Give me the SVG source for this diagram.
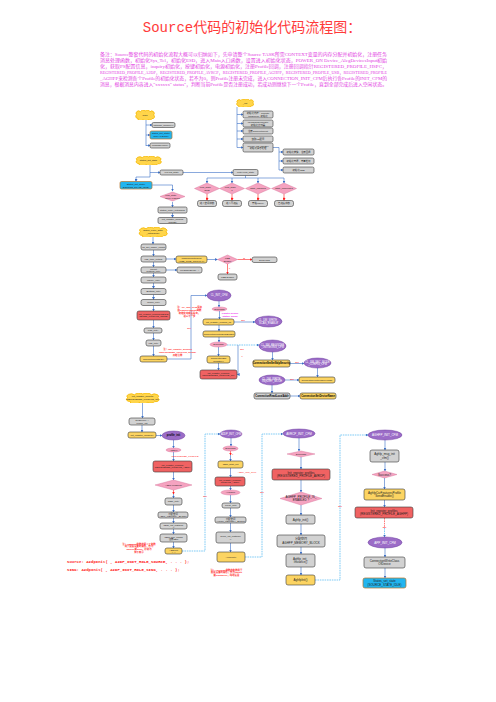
<svg xmlns="http://www.w3.org/2000/svg" width="496" height="702" viewBox="0 0 496 702">
<defs>
<style>
text{font-family:"Liberation Sans","Noto Sans CJK SC",sans-serif;text-anchor:middle;fill:#222}
.t{font-size:2.4px}
.tb{font-size:2.6px;font-weight:bold;fill:#000}
.tw{font-size:2.6px;fill:#fff}
.gray{fill:#d2d2d2;stroke:#3a3a3a;stroke-width:0.6}
.blue{fill:#22b5ef;stroke:#b8742a;stroke-width:0.7}
.yel{fill:#fcd462;stroke:#3a3a3a;stroke-width:0.6}
.red{fill:#f06262;stroke:#3a3a3a;stroke-width:0.6}
.pink{fill:#f5a3c0;stroke:#d36d96;stroke-width:0.4}
.pur{fill:#9b6cc7;stroke:#6e3fa0;stroke-width:0.5}
.cloud{fill:#ffd54a;stroke:#f5b800;stroke-width:0.8}
.c{fill:none;stroke:#3b6fc6;stroke-width:0.6;marker-end:url(#a)}
.cn{fill:none;stroke:#3b6fc6;stroke-width:0.6}
.d{fill:none;stroke:#2aa8ef;stroke-width:0.6;stroke-dasharray:1.6 0.8;marker-end:url(#a)}
.r{fill:none;stroke:#ff2020;stroke-width:0.6;marker-end:url(#ar)}
.rt{font-size:2.4px;fill:#ff1a1a;font-weight:bold}
.lab{font-size:2.4px;fill:#ff1a1a;font-weight:bold}
.desc{font-size:4.2px;fill:#e23ce2;text-anchor:start;font-family:"Liberation Serif","Noto Sans CJK SC",serif}
</style>
<marker id="a" markerUnits="userSpaceOnUse" markerWidth="3" markerHeight="3" refX="2.4" refY="1.5" orient="auto"><path d="M0,0 L2.6,1.5 L0,3 z" fill="#3b6fc6"/></marker>
<marker id="ar" markerUnits="userSpaceOnUse" markerWidth="3" markerHeight="3" refX="2.4" refY="1.5" orient="auto"><path d="M0,0 L2.6,1.5 L0,3 z" fill="#ff2020"/></marker>
<symbol id="cl" viewBox="0 0 100 50" preserveAspectRatio="none"><path d="M15,42 A10,10 0 0 1 8,24 A12,12 0 0 1 27,9 A15,15 0 0 1 51,5 A14,14 0 0 1 75,9 A12,12 0 0 1 93,25 A10,10 0 0 1 85,43 A12,12 0 0 1 65,47 A14,14 0 0 1 40,47 A12,12 0 0 1 15,42 Z" class="cloud" vector-effect="non-scaling-stroke"/></symbol>
</defs>
<rect width="496" height="702" fill="#fff"/>

<g id="title"><text x="252" y="31.5" style="font-family:'Liberation Mono','Noto Sans CJK SC',monospace;font-size:14px;fill:#ff3b3b">Source代码的初始化代码流程图：</text></g>
<g id="description">
<text class="desc" x="100" y="55.5" textLength="287" lengthAdjust="spacingAndGlyphs">备注：Source整套代码的初始化流程大概可以归纳如下，先申请整个Source TASK所需CONTEXT变量的内存分配并初始化，注册任务</text>
<text class="desc" x="100" y="61.5" textLength="287" lengthAdjust="spacingAndGlyphs">消息处理函数，初始化Sys_Tel，初始化ESD，进入Main入口函数，设置进入初始化状态，POWER_ON Device_AlegDevicesInput初始</text>
<text class="desc" x="100" y="67.5" textLength="287" lengthAdjust="spacingAndGlyphs">化，获取PS配置信息，inquiry初始化，按键初始化，电源初始化，注册Profile回调，注册回调指针REGISTERED_PROFILE_HSPC，</text>
<text class="desc" x="100" y="73.5" textLength="287" lengthAdjust="spacingAndGlyphs">REGISTERED_PROFILE_A2DP，REGISTERED_PROFILE_AVRCP，REGISTERED_PROFILE_AGHFP，REGISTERED_PROFILE_USB，REGISTERED_PROFILE</text>
<text class="desc" x="100" y="79.5" textLength="287" lengthAdjust="spacingAndGlyphs">_AGHFP来检测各个Profile的初始化状态，若不为0，则Profile注册未完成，进入CONNECTION_INIT_CFM后执行各Profile的INIT_CFM的</text>
<text class="desc" x="100" y="85.5" textLength="287" lengthAdjust="spacingAndGlyphs">消息，根据消息内容进入"xxxxxx" status"，判断当前Profile是否注册成功，若成功则继续下一个Profile，直到全部完成后进入空闲状态。</text>
</g>

<g id="connectors">
<path class="cn" d="M146,120 V146"/>
<path class="c" d="M146,125 H152"/>
<path class="c" d="M146,135 H150"/>
<path class="c" d="M146,145.5 H150"/>
<path class="cn" d="M150,165 V177 H136"/>
<path class="c" d="M136,177 V181.5"/>
<path class="c" d="M150,172.5 H160"/>
<path class="c" d="M183,172.5 H233"/>
<path class="c" d="M152,185 H172.5 V191"/>
<path class="c" d="M172.5,202 V207"/>
<path class="c" d="M172.5,213 V217.5"/>
<path class="cn" d="M237,107 V147.5"/>
<path class="c" d="M237,114.5 H243"/>
<path class="c" d="M237,123.5 H243"/>
<path class="c" d="M237,131 H243"/>
<path class="c" d="M237,139 H243"/>
<path class="c" d="M237,147.5 H243"/>
<path class="cn" d="M273,147.5 H279 V170"/>
<path class="c" d="M279,152 H283"/>
<path class="c" d="M279,161 H283"/>
<path class="c" d="M279,170 H283"/>
<path class="cn" d="M245.5,175.5 V178 M207,178 H284"/>
<path class="c" d="M207,178 V183"/>
<path class="c" d="M232,178 V183"/>
<path class="c" d="M258,178 V183"/>
<path class="c" d="M284,178 V183"/>
<path class="r" d="M207,194 V200.5"/>
<path class="r" d="M232,194 V200.5"/>
<path class="r" d="M258,194 V200.5"/>
<path class="r" d="M284,194 V200.5"/>
<path class="c" d="M153,237 V244"/>
<path class="c" d="M153.5,250 V256"/>
<path class="c" d="M153.5,262 V267"/>
<path class="c" d="M153.5,273 V277"/>
<path class="c" d="M153.5,283 V288.5"/>
<path class="c" d="M153.5,294.5 V299.5"/>
<path class="c" d="M153.5,305.5 V311"/>
<path class="c" d="M153.5,320 V328"/>
<path class="c" d="M153.5,333 V340"/>
<path class="c" d="M153.5,346 V356"/>
<path class="c" d="M166,259 H176"/>
<path class="c" d="M207,259.5 H217.5"/>
<path class="r" d="M237.5,259.5 H252"/>
<path class="r" d="M227.5,264 V274"/>
<path class="c" d="M166,270 H177"/>
<path class="c" d="M167,359 H191 V295.5 H207"/>
<path class="c" d="M219,301 V307"/>
<path class="c" d="M219.5,311 V319"/>
<path class="c" d="M234,322 H255"/>
<path class="c" d="M219,325 V331"/>
<path class="c" d="M219,337 V342"/>
<path class="c" d="M218.5,347 V356"/>
<path class="c" d="M218.5,363 V370"/>
<path class="d" d="M227,345 H259"/>
<path class="c" d="M238,345 V374.5 H237.2"/>
<path class="c" d="M272.5,352 V360"/>
<path class="c" d="M290,363.5 H304"/>
<path class="c" d="M317.5,368 V377"/>
<path class="c" d="M285,380 H299"/>
<path class="c" d="M272,385 V393"/>
<path class="c" d="M290,396 H300"/>
<path class="c" d="M142.5,403 V418"/>
<path class="c" d="M142,425 V432"/>
<path class="c" d="M156,435.5 H162"/>
<path class="c" d="M173.5,440 V448"/>
<path class="c" d="M173.5,452 V461"/>
<path class="c" d="M173.5,472 V480"/>
<path class="r" d="M173.5,490 V494"/>
<path class="c" d="M173.5,494 V498"/>
<path class="c" d="M173.5,505 V512"/>
<path class="c" d="M173.5,518 V523"/>
<path class="c" d="M173.5,529 V534"/>
<path class="c" d="M173.5,542 V548"/>
<path class="d" d="M182,551 H205 V434 H220"/>
<path class="c" d="M231,438 V446"/>
<path class="r" d="M230.5,451 V455"/>
<path class="c" d="M230.5,455 V461"/>
<path class="c" d="M230.5,468 V477"/>
<path class="c" d="M230.5,486 V490"/>
<path class="c" d="M230.5,495 V503"/>
<path class="c" d="M230.5,508 V517"/>
<path class="c" d="M230.5,523 V532"/>
<path class="c" d="M230.5,543 V552"/>
<path class="d" d="M245,557 H262 V434 H283"/>
<path class="c" d="M299,438 V451"/>
<path class="c" d="M301,457 V469"/>
<path class="c" d="M301,480 V492"/>
<path class="c" d="M301,505 V515"/>
<path class="c" d="M301,524 V535"/>
<path class="c" d="M301,547 V554"/>
<path class="c" d="M301,567 V575"/>
<path class="d" d="M315,580 H340 V435 H368"/>
<path class="c" d="M385,440 V450"/>
<path class="c" d="M385,462 V471"/>
<path class="c" d="M384.5,478 V489"/>
<path class="c" d="M384.5,500 V507"/>
<path fill="none" stroke="#ff2020" stroke-width="0.6" stroke-dasharray="1.6 0.8" d="M384.5,518 V528"/>
<path class="d" d="M384.5,528 V537"/>
<path class="c" d="M385,548 V557"/>
<path class="c" d="M385,568 V578"/>
</g>

<g id="labels">
<text class="lab" x="207" y="198">Y</text>
<text class="lab" x="232" y="198">Y</text>
<text class="lab" x="258" y="198">Y</text>
<text class="lab" x="284" y="198">Y</text>
<text class="lab" x="244" y="258.8">N</text>
<text class="lab" x="229.5" y="269">Y</text>
<text class="lab" x="243" y="321">NO</text>
<text class="lab" x="242" y="350">NO</text>
<text class="lab" x="242" y="357">Y</text>
<text class="lab" x="297" y="363">NO</text>
<text class="lab" x="292" y="379.5">NO</text>
<text class="lab" x="189" y="328.5">NO</text>
<text class="lab" x="173.5" y="494">Y</text>
<text class="lab" x="205" y="496.8">NO</text>
<text class="lab" x="262" y="492.8">NO</text>
<text class="lab" x="340" y="506.8">NO</text>
<text class="lab" x="384.5" y="528">NO</text>
<text class="lab" x="232.5" y="455">Y</text>
</g>

<g id="notes">
<text class="rt"><tspan x="189.5" y="308">注：CL_INIT_CFM消息</tspan><tspan x="189.5" y="311">由ConnectionInit函数</tspan><tspan x="189.5" y="314">初始化完成后发出，</tspan><tspan x="189.5" y="317">进入下一步</tspan></text>
<text class="rt"><tspan x="177.5" y="349.5">注：init_register_profiles</tspan><tspan x="177.5" y="352.5">(REGISTERED_PROFILE_NONE)</tspan><tspan x="177.5" y="355.5">开始注册</tspan></text>
<text style="font-size:2.4px;fill:#ee22ee;font-weight:bold"><tspan x="230" y="313.5">register profile</tspan><tspan x="230" y="316.5">status: 0x000</tspan></text>
<text class="rt" x="185" y="456.8" style="font-weight:normal">REGISTERED_PROFILE</text>
<text class="rt" x="247" y="472.8" style="font-weight:normal">A2DP_INIT_CFM</text>
<text class="rt"><tspan x="139" y="544.5">注：A2dpInit函数的第二个参数</tspan><tspan x="139" y="547.3">用于配置设备的角色，作为</tspan><tspan x="139" y="550.1">Source或Sink，分别为</tspan><tspan x="139" y="552.9">如下所示</tspan></text>
<text class="rt" style="font-size:4px;text-anchor:start;font-family:'Liberation Mono',monospace"><tspan x="67" y="562.5">Source: A2dpInit( , A2DP_INIT_ROLE_SOURCE, . . . );</tspan><tspan x="67" y="570.5">SINK:   A2dpInit( , A2DP_INIT_ROLE_SINK, . . . );</tspan></text>
<text class="rt"><tspan x="226.5" y="570.5">注：AvrcpInit函数的参数用于</tspan><tspan x="226.5" y="573.3">配置设备的角色，作为Target</tspan><tspan x="226.5" y="576.1">或Controller，均可设置</tspan></text>
</g>

<g id="n_main"><use href="#cl" x="135" y="110" width="20" height="10"/><text class="t" x="145" y="115.9">main</text></g>
<g id="n_initmem"><rect class="gray" x="152" y="122.5" width="23" height="5" rx="1.5"/><text class="t" x="163.5" y="125.9">initialise_memory()</text></g>
<g id="n_setinit"><rect class="blue" x="150" y="131" width="22" height="8" rx="1.5"/><text class="t"><tspan x="161" y="134.4">states_set_state(</tspan><tspan x="161" y="137.2">INITIALISING)</tspan></text></g>
<g id="n_loop"><rect class="gray" x="150" y="143" width="20" height="5" rx="1.5"/><text class="t" x="160" y="146.4">MessageLoop()</text></g>

<g id="n_setstate"><use href="#cl" x="135" y="156" width="27" height="9"/><text class="t" x="148.5" y="161.4">states_set_state</text></g>
<g id="n_exit"><rect class="gray" x="160" y="170" width="23" height="5" rx="1.5"/><text class="t" x="171.5" y="173.4">exit old_state</text></g>
<g id="n_enter"><rect class="gray" x="233" y="169.5" width="25" height="6" rx="1.5"/><text class="t" x="245.5" y="173.4">enter new_state</text></g>
<g id="n_setconn"><rect class="blue" x="120" y="181.5" width="32" height="7.5" rx="1.5"/><text class="t"><tspan x="136" y="184.7">States_set_state(</tspan><tspan x="136" y="187.5">SOURCE_STATE_IDLE)</tspan></text></g>
<g id="n_d1"><polygon class="pink" points="160,196.5 172.5,192 185,196.5 172.5,201"/><text class="t"><tspan x="172.5" y="196">new_state ==</tspan><tspan x="172.5" y="198.6">INITIALISING</tspan></text></g>
<g id="n_ini1"><rect class="gray" x="158" y="207" width="29" height="6" rx="1.5"/><text class="t" x="172.5" y="210.9">states_enter_initialising</text></g>
<g id="n_ini2"><rect class="gray" x="158" y="217.5" width="29" height="6" rx="1.5"/><text class="t"><tspan x="172.5" y="220">init_register_profiles</tspan><tspan x="172.5" y="222.6">(NONE)</tspan></text></g>

<g id="n_init"><use href="#cl" x="236" y="99" width="18" height="8"/><text class="t" x="245" y="103.9">_init</text></g>
<g id="n_i1"><rect class="gray" x="243" y="111" width="30" height="7" rx="1.5"/><text class="t"><tspan x="258" y="114">初始化内存：allocate</tspan><tspan x="258" y="116.6">theSource, 初始化</tspan></text></g>
<g id="n_i2"><rect class="gray" x="243" y="120" width="30" height="7" rx="1.5"/><text class="t"><tspan x="258" y="123">MessageSendLater</tspan><tspan x="258" y="125.6">初始化计时器</tspan></text></g>
<g id="n_i3"><rect class="gray" x="243" y="128" width="30" height="6" rx="1.5"/><text class="t" x="258" y="131.9">注册ConnectionInit</text></g>
<g id="n_i4"><rect class="gray" x="243" y="136" width="30" height="6" rx="1.5"/><text class="t" x="258" y="139.9">读取PS配置</text></g>
<g id="n_i5"><rect class="gray" x="243" y="143" width="30" height="9" rx="1.5"/><text class="t"><tspan x="258" y="146.6">source_init_handler</tspan><tspan x="258" y="149.4">初始化消息处理</tspan></text></g>
<g id="n_i6"><rect class="gray" x="283" y="149" width="31" height="6" rx="1.5"/><text class="t" x="298.5" y="152.9">初始化按键，注册回调</text></g>
<g id="n_i7"><rect class="gray" x="283" y="158" width="31" height="6" rx="1.5"/><text class="t" x="298.5" y="161.9">初始化电源，电量检测</text></g>
<g id="n_i8"><rect class="gray" x="283" y="167" width="31" height="6" rx="1.5"/><text class="t" x="298.5" y="170.9">初始化USB</text></g>

<g id="n_d2"><polygon class="pink" points="194.5,188.5 207,183 219.5,188.5 207,194"/><text class="t"><tspan x="207" y="188">new_state ==</tspan><tspan x="207" y="190.6">IDLE</tspan></text></g>
<g id="n_d3"><polygon class="pink" points="219.5,188.5 232,183 244.5,188.5 232,194"/><text class="t"><tspan x="232" y="188">new_state ==</tspan><tspan x="232" y="190.6">?</tspan></text></g>
<g id="n_d4"><polygon class="pink" points="245.5,188.5 258,183 270.5,188.5 258,194"/><text class="t" x="258" y="189.4">state_inquiring</text></g>
<g id="n_d5"><polygon class="pink" points="271.5,188.5 284,183 296.5,188.5 284,194"/><text class="t" x="284" y="189.4">state_connected</text></g>
<g id="n_e2"><rect class="gray" x="197.5" y="200.5" width="19" height="6" rx="2"/><text class="t" x="207" y="204.4">进入空闲状态</text></g>
<g id="n_e3"><rect class="gray" x="222.5" y="200.5" width="19" height="6" rx="2"/><text class="t" x="232" y="204.4">进入可连接</text></g>
<g id="n_e4"><rect class="gray" x="248.5" y="200.5" width="19" height="6" rx="2"/><text class="t" x="258" y="204.4">开始inquiry</text></g>
<g id="n_e5"><rect class="gray" x="274.5" y="200.5" width="19" height="6" rx="2"/><text class="t" x="284" y="204.4">已连接状态</text></g>

<g id="n_entinit"><use href="#cl" x="138" y="227" width="30" height="10"/><text class="t"><tspan x="153" y="231.3">states_enter_state</tspan><tspan x="153" y="234">_initialising()</tspan></text></g>
<g id="n_c1"><rect class="gray" x="141" y="244" width="25" height="6" rx="2"/><text class="t" x="153.5" y="247.9">ps_get_power_config</text></g>
<g id="n_c2"><rect class="gray" x="141" y="256" width="25" height="6" rx="2"/><text class="t" x="153.5" y="259.9">usb_time_critical</text></g>
<g id="n_c3"><rect class="gray" x="141" y="267" width="25" height="6" rx="2"/><text class="t"><tspan x="153.5" y="269.6">PioInit</tspan><tspan x="153.5" y="272.2">buttons_init()</tspan></text></g>
<g id="n_c4"><rect class="gray" x="141" y="277" width="25" height="6" rx="2"/><text class="t" x="153.5" y="280.9">inquiry_init()</text></g>
<g id="n_c5"><rect class="gray" x="141" y="288.5" width="25" height="6" rx="2"/><text class="t" x="153.5" y="292.4">Buttons_init()</text></g>
<g id="n_c6"><rect class="gray" x="141" y="299.5" width="25" height="6" rx="2"/><text class="t" x="153.5" y="303.4">power_init()</text></g>
<g id="n_c7"><rect class="red" x="137" y="311" width="33" height="9" rx="2"/><text class="t"><tspan x="153.5" y="314.6">init_register_profiles(REGIS</tspan><tspan x="153.5" y="317.4">TERED_PROFILE_NONE)</tspan></text></g>
<g id="n_c8"><rect class="gray" x="144" y="328" width="18" height="5" rx="2"/><text class="t" x="153" y="331.4">leds_init()</text></g>
<g id="n_c9"><rect class="gray" x="146" y="340" width="15" height="6" rx="2"/><text class="t" x="153.5" y="343.9">usb_init()</text></g>
<g id="n_c10"><rect class="yel" x="140" y="356" width="27" height="6" rx="2"/><text class="t" x="153.5" y="359.9">ConnectionInitEx2()</text></g>
<g id="n_s1"><rect class="yel" x="176" y="256" width="31" height="7" rx="2"/><text class="t"><tspan x="191.5" y="259">UsbTimeCriticalInit</tspan><tspan x="191.5" y="261.6">(USB_TIME_CRITICAL)</tspan></text></g>
<g id="n_s2"><polygon class="pink" points="217.5,259.5 227.5,255 237.5,259.5 227.5,264"/><text class="t"><tspan x="227.5" y="259">USB</tspan><tspan x="227.5" y="261.6">Enable</tspan></text></g>
<g id="n_s3"><rect class="gray" x="252" y="257" width="25" height="5.5" rx="2"/><text class="t" x="264.5" y="260.6">Send msg</text></g>
<g id="n_s4"><rect class="gray" x="218" y="274" width="19" height="6" rx="2"/><text class="t" x="227.5" y="277.9">USB Enable</text></g>
<g id="n_s5"><rect class="gray" x="177" y="267" width="25" height="6" rx="2"/><text class="t" x="189.5" y="270.9">MessageSend(...)</text></g>

<g id="n_clcfm"><ellipse class="pur" cx="219" cy="295.5" rx="12" ry="5.5"/><text class="tw" x="219" y="296.4">CL_INIT_CFM</text></g>
<g id="n_suc1"><ellipse class="pink" cx="219.5" cy="309" rx="7.5" ry="2"/><text class="t" x="219.5" y="309.9">Success?</text></g>
<g id="n_y1"><rect class="yel" x="203" y="319" width="31" height="6" rx="2"/><text class="t" x="218.5" y="322.9">init_register_profiles_cb</text></g>
<g id="n_y2"><rect class="yel" x="203" y="331" width="32" height="6" rx="2"/><text class="t" x="219" y="334.9">ConnectionWriteScanEnable</text></g>
<g id="n_suc2"><ellipse class="pink" cx="218.5" cy="344.5" rx="8.5" ry="2.5"/><text class="t" x="218.5" y="345.4">Success?</text></g>
<g id="n_y3"><rect class="yel" x="207" y="356" width="23" height="7" rx="2"/><text class="t"><tspan x="218.5" y="359">ConnectionSm</tspan><tspan x="218.5" y="361.6">Register()</tspan></text></g>
<g id="n_r1"><rect class="red" x="200" y="370" width="37" height="9" rx="2"/><text class="t"><tspan x="218.5" y="373.6">init_register_profiles(</tspan><tspan x="218.5" y="376.4">REGISTERED_PROFILE_CL)</tspan></text></g>
<g id="n_p1"><ellipse class="pur" cx="268.5" cy="321.5" rx="13.5" ry="5.5"/><text class="tw"><tspan x="268.5" y="321">CL_DM_WRITE_</tspan><tspan x="268.5" y="323.6">SCAN_ENABLE</tspan></text></g>
<g id="n_p2"><ellipse class="pur" cx="272.5" cy="346" rx="13.5" ry="6"/><text class="tw"><tspan x="272.5" y="345.5">CL_SM_REGISTER</tspan><tspan x="272.5" y="348.1">_OUTGOING_CFM</tspan></text></g>
<g id="n_b1"><rect class="yel" x="253" y="360" width="37" height="7" rx="2"/><text class="tb" x="271.5" y="364.4">ConnectionSmSetSdpSecurity</text></g>
<g id="n_p3"><ellipse class="pur" cx="317.5" cy="363" rx="13.5" ry="5"/><text class="tw"><tspan x="317.5" y="362.5">CL_SM_SEC_MODE</tspan><tspan x="317.5" y="365.1">_CONFIG_CFM</tspan></text></g>
<g id="n_y4"><rect class="yel" x="299" y="377" width="36" height="6" rx="2"/><text class="t" x="317" y="380.9">ConnectionWriteInquiryMode</text></g>
<g id="n_p4"><ellipse class="pur" cx="272" cy="380" rx="13" ry="5"/><text class="tw"><tspan x="272" y="379.5">CL_DM_WRITE_</tspan><tspan x="272" y="382.1">INQUIRY_MODE</tspan></text></g>
<g id="n_b2"><rect class="gray" x="254" y="393" width="36" height="6" rx="2"/><text class="tb" x="272" y="396.9">ConnectionReadLocalAddr</text></g>
<g id="n_b3"><rect class="yel" x="300" y="393" width="36" height="6" rx="2"/><text class="tb" x="318" y="396.9">ConnectionSetDeviceName</text></g>

<g id="n_regcloud"><use href="#cl" x="125" y="393" width="35" height="10"/><text class="t"><tspan x="142.5" y="397.3">init_register_profiles</tspan><tspan x="142.5" y="400">(REGISTERED_PROFILE_CL)</tspan></text></g>
<g id="n_f1"><rect class="gray" x="129" y="418" width="26" height="7" rx="2"/><text class="t"><tspan x="142" y="421">theSource-&gt;</tspan><tspan x="142" y="423.6">profile_init</tspan></text></g>
<g id="n_f2"><rect class="yel" x="128" y="432" width="28" height="6" rx="2"/><text class="t" x="142" y="435.9">init_register_profiles()</text></g>
<g id="n_f3"><ellipse class="pur" cx="173.5" cy="435.5" rx="11.5" ry="4.5"/><text class="tb" x="173.5" y="436.4">profile_init</text></g>
<g id="n_f4"><ellipse class="pink" cx="173.5" cy="450" rx="7.5" ry="2"/><text class="t" x="173.5" y="450.9">A2DP?</text></g>
<g id="n_f5"><rect class="red" x="153" y="461" width="39" height="11" rx="2"/><text class="t"><tspan x="172.5" y="465.6">init_register_profiles(</tspan><tspan x="172.5" y="468.4">REGISTERED_PROFILE_A2DP)</tspan></text></g>
<g id="n_f6"><polygon class="pink" points="155,485 173.5,480 192,485 173.5,490"/><text class="t" x="173.5" y="485.9">A2DP enabled?</text></g>
<g id="n_f7"><rect class="gray" x="165" y="498" width="17" height="7" rx="2"/><text class="t" x="173.5" y="502.4">a2dp_init()</text></g>
<g id="n_f8"><rect class="gray" x="158" y="512" width="30" height="6" rx="2"/><text class="t"><tspan x="173" y="514.6">分配空间</tspan><tspan x="173" y="517.2">A2DP_MEMORY_BLOCK</tspan></text></g>
<g id="n_f9"><rect class="gray" x="160" y="523" width="27" height="6" rx="2"/><text class="t"><tspan x="173.5" y="525.6">a2dp_init_instance</tspan><tspan x="173.5" y="528.2">()</tspan></text></g>
<g id="n_f10"><rect class="gray" x="160" y="534" width="27" height="8" rx="2"/><text class="t"><tspan x="173.5" y="537.6">a2dp_sep_config</tspan><tspan x="173.5" y="540.4">注册SEP</tspan></text></g>
<g id="n_f11"><rect class="yel" x="165" y="548" width="17" height="6" rx="2"/><text class="t"><tspan x="173.5" y="550.6">A2dpInit</tspan><tspan x="173.5" y="553.2">(...)</tspan></text></g>

<g id="n_a2cfm"><ellipse class="pur" cx="231" cy="434" rx="11" ry="4"/><text class="tw" x="231" y="434.9">A2DP_INIT_CFM</text></g>
<g id="n_g1"><ellipse class="pink" cx="230.5" cy="448.5" rx="7.5" ry="2.5"/><text class="t" x="230.5" y="449.4">Success?</text></g>
<g id="n_g2"><rect class="yel" x="218" y="461" width="25" height="7" rx="2"/><text class="t" x="230.5" y="465.4">a2dp_start_init</text></g>
<g id="n_g3"><rect class="red" x="215" y="477" width="30" height="9" rx="2"/><text class="t"><tspan x="230" y="480.6">init_register_profiles(</tspan><tspan x="230" y="483.4">PROFILE_A2DP)</tspan></text></g>
<g id="n_g4"><ellipse class="pink" cx="230.5" cy="492.5" rx="9.5" ry="2.5"/><text class="t" x="230.5" y="493.4">AVRCP?</text></g>
<g id="n_g5"><rect class="gray" x="222" y="503" width="18" height="5" rx="2"/><text class="t" x="231" y="506.4">avrcp_init()</text></g>
<g id="n_g6"><rect class="gray" x="215" y="517" width="31" height="6" rx="2"/><text class="t"><tspan x="230.5" y="519.6">分配空间</tspan><tspan x="230.5" y="522.2">AVRCP_MEMORY_BLOCK</tspan></text></g>
<g id="n_g7"><rect class="gray" x="216" y="532" width="29" height="11" rx="2"/><text class="t"><tspan x="230.5" y="536.8">avrcp_init_instance</tspan><tspan x="230.5" y="539.6">()</tspan></text></g>
<g id="n_g8"><rect class="yel" x="217" y="552" width="28" height="10" rx="2"/><text class="t" x="231" y="557.9">AvrcpInit()</text></g>

<g id="n_avcfm"><ellipse class="pur" cx="299" cy="433.5" rx="16" ry="4.5"/><text class="tw" x="299" y="434.5" style="font-size:3px">AVRCP_INIT_CFM</text></g>
<g id="n_h1"><polygon class="pink" points="287,454 301,451 315,454 301,457"/><text class="t" x="301" y="454.9">Success?</text></g>
<g id="n_h2"><rect class="red" x="272" y="469" width="58" height="11" rx="2"/><text class="t" style="font-size:3px"><tspan x="301" y="473.6">Init_register_profiles</tspan><tspan x="301" y="477.2">(REGISTERED_PROFILE_AVRCP)</tspan></text></g>
<g id="n_h3"><polygon class="pink" points="280,498.5 301,492 322,498.5 301,505"/><text class="t" style="font-size:3px"><tspan x="301" y="498">AGHFP_PROFILE_IS_</tspan><tspan x="301" y="501.2">ENABLED ?</tspan></text></g>
<g id="n_h4"><rect class="gray" x="286" y="515" width="29" height="9" rx="2"/><text class="t" x="300.5" y="520.6" style="font-size:3px">Aghfp_init()</text></g>
<g id="n_h5"><rect class="gray" x="277" y="535" width="48" height="12" rx="2"/><text class="t" style="font-size:3px"><tspan x="301" y="540">分配空间</tspan><tspan x="301" y="543.6">AGHFP_MEMORY_BLOCK</tspan></text></g>
<g id="n_h6"><rect class="gray" x="286" y="554" width="29" height="13" rx="2"/><text class="t" style="font-size:3px"><tspan x="300.5" y="559.5">Aghfp_init_</tspan><tspan x="300.5" y="563.1">Instance()</tspan></text></g>
<g id="n_h7"><rect class="yel" x="286" y="575" width="29" height="10" rx="2"/><text class="t" x="300.5" y="581" style="font-size:3px">AghfpInit()</text></g>

<g id="n_agcfm"><ellipse class="pur" cx="385" cy="435" rx="17" ry="5"/><text class="tw" x="385" y="436" style="font-size:3px">AGHFP_INIT_CFM</text></g>
<g id="n_k1"><rect class="gray" x="370" y="450" width="29" height="12" rx="2"/><text class="t" style="font-size:3px"><tspan x="384.5" y="455.3">Aghfp_msg_init</tspan><tspan x="384.5" y="458.9">_cfm()</tspan></text></g>
<g id="n_k2"><polygon class="pink" points="372,474.5 384.5,471 397,474.5 384.5,478"/><text class="t" x="384.5" y="475.5" style="font-size:3px">Success?</text></g>
<g id="n_k3"><rect class="yel" x="364" y="489" width="41" height="11" rx="2"/><text class="t" style="font-size:3px"><tspan x="384.5" y="493.6">AghfpCsrFeaturesProfile</tspan><tspan x="384.5" y="497.2">SendEnable()</tspan></text></g>
<g id="n_k4"><rect class="red" x="355" y="507" width="58" height="11" rx="2"/><text class="t" style="font-size:3px"><tspan x="384" y="511.6">Init_register_profiles</tspan><tspan x="384" y="515.2">(REGISTERED_PROFILE_AGHFP)</tspan></text></g>
<g id="n_appcfm"><ellipse class="pur" cx="385" cy="542.5" rx="17" ry="5.5"/><text class="tw" x="385" y="543.5" style="font-size:3px">APP_INIT_CFM</text></g>
<g id="n_k5"><rect class="gray" x="364" y="557" width="41" height="11" rx="2"/><text class="t" style="font-size:3px"><tspan x="384.5" y="561.6">ConnectionWriteClass</tspan><tspan x="384.5" y="565.2">OfDevice</tspan></text></g>
<g id="n_k6"><rect class="blue" x="363" y="578" width="43" height="10" rx="2"/><text class="t" style="font-size:3px"><tspan x="384.5" y="582.2">States_set_state</tspan><tspan x="384.5" y="585.8">(SOURCE_STATE_IDLE)</tspan></text></g>
</svg>
